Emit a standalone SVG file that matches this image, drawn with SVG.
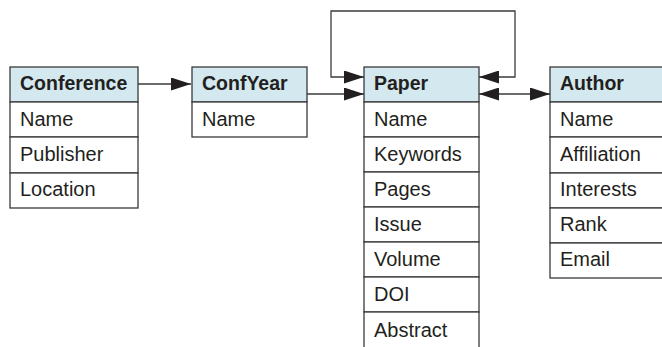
<svg xmlns="http://www.w3.org/2000/svg" width="662" height="347" viewBox="0 0 662 347">
<defs>
<style>
.box{fill:#fff;stroke:#3a3a3a;stroke-width:1.3}
.hd{fill:#d3e9ef;stroke:#3a3a3a;stroke-width:1.3}
.t{font-family:"Liberation Sans",Arial,sans-serif;font-size:20px;fill:#231f20}
.b{font-weight:bold;font-size:19.5px}
.c{fill:none;stroke:#3a3a3a;stroke-width:1.3}
</style>
<marker id="ah" viewBox="0 0 20 13" refX="20" refY="6.5" markerWidth="20" markerHeight="13" markerUnits="userSpaceOnUse" orient="auto-start-reverse">
<path d="M0,0 L20,6.5 L0,13 Z" fill="#231f20"/>
</marker>
</defs>
<rect width="662" height="347" fill="#fff"/>
<g id="connectors">
<line class="c" x1="138" y1="84" x2="191" y2="84" marker-end="url(#ah)"/>
<line class="c" x1="307" y1="94" x2="364" y2="94" marker-end="url(#ah)"/>
<polyline class="c" points="364,77 331,77 331,11 515,11 515,77 479,77" marker-start="url(#ah)" marker-end="url(#ah)"/>
<line class="c" x1="479" y1="94" x2="550" y2="94" marker-start="url(#ah)" marker-end="url(#ah)"/>
</g>
<g id="conference">
<rect class="hd" x="10" y="67" width="128" height="35"/>
<rect class="box" x="10" y="102" width="128" height="35"/>
<rect class="box" x="10" y="137" width="128" height="36"/>
<rect class="box" x="10" y="173" width="128" height="35"/>
<text class="t b" x="20" y="90">Conference</text>
<text class="t" x="20" y="126">Name</text>
<text class="t" x="20" y="161">Publisher</text>
<text class="t" x="20" y="196">Location</text>
</g>
<g id="confyear">
<rect class="hd" x="192" y="67" width="115" height="35"/>
<rect class="box" x="192" y="102" width="115" height="35"/>
<text class="t b" x="202" y="90">ConfYear</text>
<text class="t" x="202" y="126">Name</text>
</g>
<g id="paper">
<rect class="hd" x="364" y="67" width="115" height="35"/>
<rect class="box" x="364" y="102" width="115" height="35"/>
<rect class="box" x="364" y="137" width="115" height="35"/>
<rect class="box" x="364" y="172" width="115" height="35"/>
<rect class="box" x="364" y="207" width="115" height="35"/>
<rect class="box" x="364" y="242" width="115" height="35"/>
<rect class="box" x="364" y="277" width="115" height="35"/>
<rect class="box" x="364" y="312" width="115" height="40"/>
<text class="t b" x="374" y="90">Paper</text>
<text class="t" x="374" y="126">Name</text>
<text class="t" x="374" y="161">Keywords</text>
<text class="t" x="374" y="196">Pages</text>
<text class="t" x="374" y="231">Issue</text>
<text class="t" x="374" y="266">Volume</text>
<text class="t" x="374" y="301">DOI</text>
<text class="t" x="374" y="337">Abstract</text>
</g>
<g id="author">
<rect class="hd" x="550" y="67" width="120" height="35"/>
<rect class="box" x="550" y="102" width="120" height="35"/>
<rect class="box" x="550" y="137" width="120" height="36"/>
<rect class="box" x="550" y="173" width="120" height="35"/>
<rect class="box" x="550" y="208" width="120" height="35"/>
<rect class="box" x="550" y="243" width="120" height="35"/>
<text class="t b" x="560" y="90">Author</text>
<text class="t" x="560" y="126">Name</text>
<text class="t" x="560" y="161">Affiliation</text>
<text class="t" x="560" y="196">Interests</text>
<text class="t" x="560" y="231">Rank</text>
<text class="t" x="560" y="266">Email</text>
</g>
</svg>
